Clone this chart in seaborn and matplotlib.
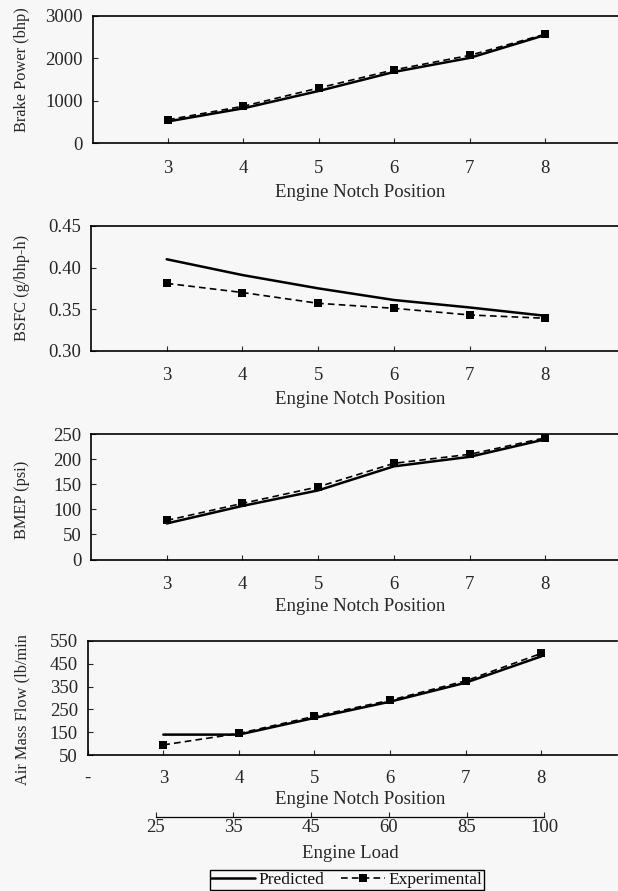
import matplotlib
matplotlib.use("Agg")
import matplotlib.pyplot as plt
import seaborn as sns
import numpy as np

# ---------------- data ----------------
notch = [3, 4, 5, 6, 7, 8]
notch_ticklabels = ["3", "4", "5", "6", "7", "8"]
load_ticklabels = ["25", "35", "45", "60", "85", "100"]

bp_pred = [510, 820, 1230, 1680, 2010, 2550]
bp_exp = [550, 870, 1300, 1730, 2070, 2570]

bsfc_pred = [0.410, 0.391, 0.375, 0.361, 0.352, 0.342]
bsfc_exp = [0.381, 0.370, 0.357, 0.351, 0.343, 0.339]

bmep_pred = [72, 107, 138, 186, 205, 240]
bmep_exp = [78, 112, 145, 192, 210, 243]

air_pred = [140, 140, 213, 284, 367, 482]
air_exp = [95, 145, 220, 290, 375, 495]

bp_ticks = [0, 1000, 2000, 3000]
bsfc_ticks = [0.30, 0.35, 0.40, 0.45]
bmep_ticks = [0, 50, 100, 150, 200, 250]
air_ticks = [50, 150, 250, 350, 450, 550]

# ---------------- style ----------------
sns.set_style("ticks")
BG = "#f7f7f7"
plt.rcParams["font.family"] = ["Liberation Serif", "DejaVu Serif"]
plt.rcParams["axes.edgecolor"] = "black"
plt.rcParams["axes.linewidth"] = 1.2
plt.rcParams["text.color"] = "#111111"
FS = 13.5
YFS = 11.8
LFS = 12.5

W, H = 618, 891
fig = plt.figure(figsize=(W / 100, H / 100), dpi=100, facecolor=BG)


def rect(l, t, r, b):
    return [l / W, 1 - b / H, (r - l) / W, (b - t) / H]


panels = [
    dict(r=(92.7, 16, 620.5, 143), pred=bp_pred, exp=bp_exp, ylim=(0, 3000),
         yt=bp_ticks, ytl=[str(v) for v in bp_ticks], ylabel="Brake Power (bhp)",
         xlab_y=192.7, tl_y=170.7, yl_c=70),
    dict(r=(91, 226, 621, 350.7), pred=bsfc_pred, exp=bsfc_exp, ylim=(0.30, 0.45),
         yt=bsfc_ticks, ytl=["%.2f" % v for v in bsfc_ticks], ylabel="BSFC (g/bhp-h)",
         xlab_y=400, tl_y=377.7, yl_c=288),
    dict(r=(91, 434.3, 621, 559.5), pred=bmep_pred, exp=bmep_exp, ylim=(0, 250),
         yt=bmep_ticks, ytl=[str(v) for v in bmep_ticks], ylabel="BMEP (psi)",
         xlab_y=606.7, tl_y=586, yl_c=500),
    dict(r=(87.7, 640.8, 616.9, 755.2), pred=air_pred, exp=air_exp, ylim=(50, 550),
         yt=air_ticks, ytl=[str(v) for v in air_ticks], ylabel="Air Mass Flow (lb/min",
         xlab_y=800, tl_y=780, yl_c=710),
]

axes = []
for i, p in enumerate(panels):
    l, t, r, b = p["r"]
    ax = fig.add_axes(rect(l, t, r, b))
    ax.set_facecolor(BG)
    sns.lineplot(x=notch, y=p["pred"], color="black", linewidth=1.8, ax=ax,
                 label="Predicted", legend=False)
    sns.lineplot(x=notch, y=p["exp"], color="black", linewidth=1.2, ax=ax,
                 linestyle=(0, (4, 2.5)), marker="s", markersize=5.5,
                 markeredgewidth=0, label="Experimental", legend=False)
    ax.set_xlim(2, 9)
    ax.set_ylim(*p["ylim"])
    if i == 3:
        ax.set_xticks([2] + notch)
        ax.set_xticklabels(["-"] + notch_ticklabels)
    else:
        ax.set_xticks(notch)
        ax.set_xticklabels(notch_ticklabels)
    ax.set_yticks(p["yt"])
    ax.set_yticklabels(p["ytl"])
    ax.spines["right"].set_visible(False)
    height_px = b - t
    ax.tick_params(axis="x", direction="in", length=3.5, width=0.8,
                   pad=(p["tl_y"] - b) * 0.72 - 7.5, labelsize=FS)
    ax.tick_params(axis="y", direction="in", length=3.5, width=0.8, pad=7,
                   labelsize=FS)
    ax.set_xlabel("Engine Notch Position", fontsize=FS)
    ax.xaxis.label.set_verticalalignment("center")
    xl_center = 360.5
    ax.xaxis.set_label_coords((xl_center - l) / (r - l), -(p["xlab_y"] - b) / height_px)
    ax.set_ylabel(p["ylabel"], fontsize=YFS)
    ax.yaxis.label.set_verticalalignment("center")
    ax.yaxis.set_label_coords((22 - l) / (r - l), (b - p["yl_c"]) / height_px)
    axes.append(ax)

# ---------------- secondary "Engine Load" axis ----------------
ll, lr = 87.7, 616.9
ly = 816.7
lax = fig.add_axes(rect(ll, ly - 1, lr, ly))
lax.set_facecolor("none")
x0_px, step_px = 155.7, 77.7
lax.set_xlim(-(x0_px - ll) / step_px, (lr - x0_px) / step_px)
lax.set_ylim(0, 1)
for s in ["top", "left", "right"]:
    lax.spines[s].set_visible(False)
lax.spines["bottom"].set_linewidth(0.9)
lax.spines["bottom"].set_bounds(0, len(load_ticklabels) - 1)
lax.set_xticks(range(len(load_ticklabels)))
lax.set_xticklabels(load_ticklabels)
lax.set_yticks([])
lax.tick_params(axis="x", direction="in", length=3.5, width=0.8, pad=2.0,
                labelsize=FS)
lax.set_xlabel("Engine Load", fontsize=FS)
lax.xaxis.label.set_verticalalignment("center")
lax.xaxis.set_label_coords((350 - ll) / (lr - ll), -(853 - ly) / 1.0)

# ---------------- legend ----------------
handles, labels = axes[3].get_legend_handles_labels()
leg = fig.legend(handles, labels, loc="upper center",
                 bbox_to_anchor=(346.7 / W, 1 - 870 / H), ncol=2,
                 frameon=True, fancybox=False, edgecolor="black", facecolor=BG,
                 framealpha=1, borderpad=0.1, borderaxespad=0, handlelength=2.5,
                 handletextpad=0.2, columnspacing=1.0, fontsize=LFS)
leg.get_frame().set_linewidth(1.0)

fig.savefig("out.png", dpi=100, facecolor=BG)
